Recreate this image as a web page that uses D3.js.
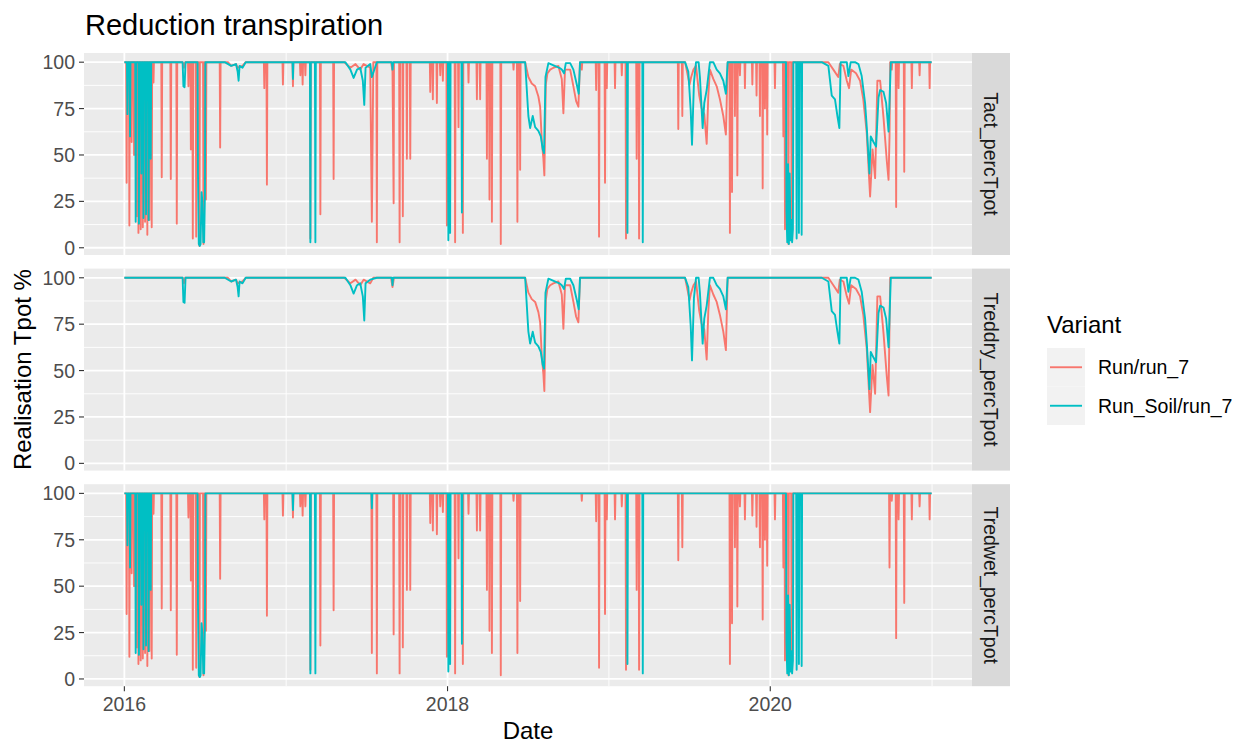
<!DOCTYPE html>
<html>
<head>
<meta charset="utf-8">
<script src="https://cdn.jsdelivr.net/npm/d3@7"></script>
<style>
body { margin: 0; background: #fff; }
text { font-family: "Liberation Sans", Arial, sans-serif; }
</style>
</head>
<body>
<div id="chart"></div>
<script>
const facets = ["Tact_percTpot", "Treddry_percTpot", "Tredwet_percTpot"];
const variants = ["Run/run_7", "Run_Soil/run_7"];
const yTicks = [0, 25, 50, 75, 100];
const yMinor = [12.5, 37.5, 62.5, 87.5];
const xTicks = [2016, 2018, 2020];
const xMinor = [2017, 2019, 2021];
const firstDay = 2016;
const lastDay = 2020.9973;

// wet stress: days below 100 % as [decimal year, %]
const wetRun = [
	[2016.014, 35], [2016.031, 12], [2016.045, 57], [2016.060, 50], [2016.076, 17], [2016.087, 8],
	[2016.101, 10], [2016.114, 11], [2016.128, 14], [2016.142, 7], [2016.155, 15], [2016.169, 11],
	[2016.180, 89], [2016.231, 38], [2016.287, 37], [2016.324, 13], [2016.396, 87], [2016.411, 53],
	[2016.423, 5], [2016.444, 6], [2016.464, 1], [2016.489, 2], [2016.504, 26], [2016.592, 54],
	[2016.865, 86], [2016.881, 34], [2016.980, 88], [2017.042, 87], [2017.088, 93], [2017.102, 88],
	[2017.119, 93], [2017.150, 5], [2017.212, 18], [2017.294, 37], [2017.531, 14], [2017.562, 3],
	[2017.666, 24], [2017.703, 3], [2017.723, 17], [2017.748, 48], [2017.769, 48], [2017.893, 84],
	[2017.909, 80], [2017.934, 78], [2017.955, 93], [2017.971, 90], [2017.996, 12], [2018.047, 3],
	[2018.068, 65], [2018.095, 8], [2018.130, 89], [2018.182, 80], [2018.202, 80], [2018.244, 48],
	[2018.260, 26], [2018.275, 14], [2018.330, 2], [2018.409, 96], [2018.433, 14], [2018.450, 42],
	[2018.832, 96], [2018.921, 85], [2018.939, 6], [2018.976, 35], [2018.987, 86], [2019.038, 86],
	[2019.080, 93], [2019.106, 5], [2019.172, 48], [2019.187, 5], [2019.430, 64], [2019.455, 71],
	[2019.750, 8], [2019.763, 30], [2019.781, 71], [2019.796, 39], [2019.812, 93], [2019.843, 86],
	[2019.889, 88], [2019.915, 82], [2019.936, 71], [2019.953, 32], [2019.967, 75], [2019.981, 61],
	[2020.029, 86], [2020.081, 60], [2020.091, 10], [2020.112, 2], [2020.132, 6], [2020.737, 60],
	[2020.751, 96], [2020.778, 22], [2020.793, 86], [2020.828, 41], [2020.875, 86], [2020.923, 93],
	[2020.985, 86]
];
const wetSoil = [
	[2016.019, 72], [2016.035, 60], [2016.070, 14], [2016.090, 13], [2016.105, 40], [2016.118, 16],
	[2016.134, 18], [2016.150, 15], [2016.163, 48],
	[2016.455, 40], [2016.460, 2], [2016.466, 1], [2016.471, 2], [2016.477, 30], [2016.482, 25],
	[2016.488, 3], [2016.493, 3], [2016.498, 30],
	[2017.042, 91], [2017.150, 3], [2017.181, 3], [2017.531, 92], [2018.005, 4], [2018.016, 8],
	[2018.089, 19], [2019.115, 8], [2019.210, 3],
	[2020.100, 20], [2020.105, 3], [2020.110, 45], [2020.115, 2], [2020.120, 40], [2020.125, 4],
	[2020.130, 15], [2020.135, 3], [2020.140, 10], [2020.163, 5], [2020.177, 8], [2020.194, 7]
];

// dry stress: multi-day dips, each a list of [decimal year, %]
const dryRun = [
	[[2016.360, 100], [2016.368, 97], [2016.376, 100]],
	[[2016.640, 100], [2016.660, 98], [2016.690, 99], [2016.700, 97], [2016.730, 98], [2016.750, 100]],
	[[2017.360, 100], [2017.398, 97], [2017.430, 99], [2017.459, 96], [2017.480, 99], [2017.521, 97], [2017.540, 100]],
	[[2017.650, 100], [2017.659, 95], [2017.668, 100]],
	[[2018.481, 100], [2018.501, 92], [2018.522, 88.5], [2018.543, 87], [2018.563, 81.5], [2018.574, 76],
	 [2018.584, 58], [2018.594, 48], [2018.600, 39], [2018.609, 88], [2018.619, 94], [2018.636, 96],
	 [2018.656, 97], [2018.687, 98], [2018.708, 91], [2018.718, 72.5], [2018.728, 96], [2018.760, 96],
	 [2018.780, 87], [2018.797, 79], [2018.811, 76], [2018.821, 100]],
	[[2019.472, 100], [2019.500, 88], [2019.510, 92], [2019.524, 96], [2019.540, 98], [2019.560, 82],
	 [2019.575, 75], [2019.591, 72], [2019.606, 56], [2019.616, 82], [2019.626, 96], [2019.647, 91],
	 [2019.668, 87], [2019.688, 80], [2019.709, 71], [2019.725, 61], [2019.736, 100]],
	[[2020.318, 100], [2020.359, 100], [2020.390, 96], [2020.420, 92], [2020.430, 99], [2020.452, 98],
	 [2020.473, 90], [2020.487, 86], [2020.500, 96], [2020.530, 94], [2020.555, 90], [2020.575, 80],
	 [2020.596, 62], [2020.617, 27.6], [2020.632, 53], [2020.648, 37.5], [2020.662, 90], [2020.679, 90],
	 [2020.700, 70], [2020.720, 47], [2020.731, 36.6], [2020.741, 100]]
];
const drySoil = [
	[[2016.360, 100], [2016.365, 87], [2016.372, 86.5], [2016.378, 100]],
	[[2016.620, 100], [2016.660, 98], [2016.690, 99], [2016.700, 95], [2016.706, 90], [2016.712, 98], [2016.730, 97], [2016.750, 100]],
	[[2017.367, 100], [2017.398, 96], [2017.418, 91.5], [2017.439, 96], [2017.459, 97], [2017.475, 90],
	 [2017.484, 77], [2017.492, 97], [2017.521, 99], [2017.562, 100]],
	[[2017.655, 100], [2017.659, 96], [2017.663, 100]],
	[[2018.481, 100], [2018.501, 71], [2018.512, 64.5], [2018.528, 71], [2018.543, 65], [2018.563, 63],
	 [2018.578, 60], [2018.590, 53], [2018.598, 51], [2018.607, 92], [2018.625, 99.5], [2018.693, 97],
	 [2018.708, 96], [2018.722, 94], [2018.733, 99.5], [2018.760, 99.5], [2018.780, 96], [2018.801, 88],
	 [2018.813, 83], [2018.821, 100]],
	[[2019.472, 100], [2019.492, 95], [2019.507, 74], [2019.515, 55.5], [2019.527, 89], [2019.540, 100],
	 [2019.556, 100], [2019.564, 92], [2019.581, 64.5], [2019.591, 78], [2019.606, 85], [2019.626, 100],
	 [2019.647, 100], [2019.668, 96], [2019.688, 94], [2019.709, 90], [2019.725, 83], [2019.736, 100]],
	[[2020.318, 100], [2020.359, 98], [2020.380, 82], [2020.400, 80], [2020.415, 71], [2020.427, 64.5],
	 [2020.435, 100], [2020.473, 100], [2020.483, 92.5], [2020.497, 100], [2020.524, 100], [2020.545, 99],
	 [2020.565, 92.5], [2020.586, 78], [2020.596, 65.5], [2020.607, 49], [2020.613, 40], [2020.621, 60],
	 [2020.638, 57], [2020.654, 54.5], [2020.669, 81], [2020.679, 85], [2020.700, 84], [2020.716, 78],
	 [2020.731, 62.6], [2020.745, 100]]
];

const colors = { run: "#F8766D", soil: "#00BFC4", panel: "#EBEBEB", strip: "#D9D9D9", tick: "#333333", tickText: "#4D4D4D" };
const dims = { left: 84, right: 972, top: 53, panelHeight: 202, gap: 13.6, strip: 38, lineWidth: 1.9 };
const fonts = { title: "29px", axisTitle: "24px", tick: "19.5px", strip: "19.5px", legendTitle: "24px", legend: "19.5px" };

const DAY = 1 / 365.25;

function toDate(yr) {
	const y = Math.floor(yr);
	const a = Date.UTC(y, 0, 1), b = Date.UTC(y + 1, 0, 1);
	return new Date(a + (yr - y) * (b - a));
}

// wet days return to 100 % unless the next wet day follows within 2 days or a dry dip is running
function series(wet, dry) {
	const dips = dry || [];
	const inDip = t => dips.some(d => t >= d[0][0] && t <= d[d.length - 1][0]);
	const v = [[firstDay, 100], [lastDay, 100]];
	const pts = (wet || []).slice().sort((a, b) => a[0] - b[0]);
	pts.forEach((p, i) => {
		const prev = pts[i - 1], next = pts[i + 1];
		if (!inDip(p[0]) && (!prev || p[0] - prev[0] > 2.5 * DAY)) v.push([p[0] - DAY, 100]);
		v.push(p);
		if (!inDip(p[0]) && (!next || next[0] - p[0] > 2.5 * DAY)) v.push([p[0] + DAY, 100]);
	});
	dips.forEach(d => v.push(...d));
	return v.sort((a, b) => a[0] - b[0]);
}

const panels = [
	{ name: facets[0], run: series(wetRun, dryRun), soil: series(wetSoil, drySoil) },
	{ name: facets[1], run: series(null, dryRun), soil: series(null, drySoil) },
	{ name: facets[2], run: series(wetRun, null), soil: series(wetSoil, null) }
];

const svg = d3.select("#chart").append("svg")
	.attr("width", 1241)
	.attr("height", 744);

const t0 = toDate(firstDay), t1 = toDate(lastDay);
const pad = (t1 - t0) * 0.05;
const x = d3.scaleUtc()
	.domain([new Date(+t0 - pad), new Date(+t1 + pad)])
	.range([dims.left, dims.right]);
const y = d3.scaleLinear()
	.domain([-3.9, 104.95])
	.range([dims.panelHeight, 0]);

const line = d3.line()
	.x(d => x(toDate(d[0])))
	.y(d => y(d[1]));

// title
svg.append("text")
	.attr("x", 85)
	.attr("y", 35)
	.style("font-size", fonts.title)
	.attr("fill", "#000")
	.text("Reduction transpiration");

panels.forEach((p, i) => {
	const top = dims.top + i * (dims.panelHeight + dims.gap);
	const g = svg.append("g").attr("transform", `translate(0, ${top})`);

	g.append("rect")
		.attr("x", dims.left)
		.attr("width", dims.right - dims.left)
		.attr("height", dims.panelHeight)
		.attr("fill", colors.panel);

	// minor grid
	g.selectAll(".ymin").data(yMinor).enter().append("line")
		.attr("x1", dims.left).attr("x2", dims.right)
		.attr("y1", d => y(d)).attr("y2", d => y(d))
		.attr("stroke", "#fff").attr("stroke-width", 0.9);
	g.selectAll(".xmin").data(xMinor).enter().append("line")
		.attr("x1", d => x(toDate(d))).attr("x2", d => x(toDate(d)))
		.attr("y1", 0).attr("y2", dims.panelHeight)
		.attr("stroke", "#fff").attr("stroke-width", 0.9);
	// major grid
	g.selectAll(".ymaj").data(yTicks).enter().append("line")
		.attr("x1", dims.left).attr("x2", dims.right)
		.attr("y1", d => y(d)).attr("y2", d => y(d))
		.attr("stroke", "#fff").attr("stroke-width", 1.8);
	g.selectAll(".xmaj").data(xTicks).enter().append("line")
		.attr("x1", d => x(toDate(d))).attr("x2", d => x(toDate(d)))
		.attr("y1", 0).attr("y2", dims.panelHeight)
		.attr("stroke", "#fff").attr("stroke-width", 1.8);

	// series: Run first, Run_Soil on top
	g.append("path")
		.datum(p.run)
		.attr("d", line)
		.attr("fill", "none")
		.attr("stroke", colors.run)
		.attr("stroke-width", dims.lineWidth)
		.attr("stroke-linejoin", "round");
	g.append("path")
		.datum(p.soil)
		.attr("d", line)
		.attr("fill", "none")
		.attr("stroke", colors.soil)
		.attr("stroke-width", dims.lineWidth)
		.attr("stroke-linejoin", "round");

	// y axis
	g.selectAll(".ytick").data(yTicks).enter().append("line")
		.attr("x1", dims.left - 5).attr("x2", dims.left)
		.attr("y1", d => y(d)).attr("y2", d => y(d))
		.attr("stroke", colors.tick).attr("stroke-width", 1.1);
	g.selectAll(".ylab").data(yTicks).enter().append("text")
		.attr("x", dims.left - 9)
		.attr("y", d => y(d))
		.attr("dy", "0.36em")
		.attr("text-anchor", "end")
		.style("font-size", fonts.tick)
		.attr("fill", colors.tickText)
		.text(d => d);

	// strip
	g.append("rect")
		.attr("x", dims.right)
		.attr("width", dims.strip)
		.attr("height", dims.panelHeight)
		.attr("fill", colors.strip);
	g.append("text")
		.attr("transform", `translate(${dims.right + dims.strip / 2}, ${dims.panelHeight / 2}) rotate(90)`)
		.attr("text-anchor", "middle")
		.attr("dy", "0.36em")
		.style("font-size", fonts.strip)
		.attr("fill", "#1A1A1A")
		.text(p.name);
});

// x axis
const bottom = dims.top + 3 * dims.panelHeight + 2 * dims.gap;
const xa = svg.append("g");
xa.selectAll("line").data(xTicks).enter().append("line")
	.attr("x1", d => x(toDate(d))).attr("x2", d => x(toDate(d)))
	.attr("y1", bottom).attr("y2", bottom + 5)
	.attr("stroke", colors.tick).attr("stroke-width", 1.1);
xa.selectAll("text").data(xTicks).enter().append("text")
	.attr("x", d => x(toDate(d)))
	.attr("y", bottom + 25)
	.attr("text-anchor", "middle")
	.style("font-size", fonts.tick)
	.attr("fill", colors.tickText)
	.text(d => d);

// axis titles
svg.append("text")
	.attr("x", (dims.left + dims.right) / 2)
	.attr("y", 739)
	.attr("text-anchor", "middle")
	.style("font-size", fonts.axisTitle)
	.attr("fill", "#000")
	.text("Date");
svg.append("text")
	.attr("transform", `translate(31, ${dims.top + (bottom - dims.top) / 2}) rotate(-90)`)
	.attr("text-anchor", "middle")
	.style("font-size", fonts.axisTitle)
	.attr("fill", "#000")
	.text("Realisation Tpot %");

// legend
const legend = svg.append("g").attr("transform", "translate(1047, 333)");
legend.append("text")
	.attr("x", 0)
	.attr("y", 0)
	.style("font-size", fonts.legendTitle)
	.attr("fill", "#000")
	.text("Variant");
variants.forEach((v, i) => {
	const ky = 15 + i * 38.5;
	legend.append("rect")
		.attr("x", 0).attr("y", ky)
		.attr("width", 38).attr("height", 38.5)
		.attr("fill", "#F2F2F2");
	legend.append("line")
		.attr("x1", 3).attr("x2", 35)
		.attr("y1", ky + 19.25).attr("y2", ky + 19.25)
		.attr("stroke", i === 0 ? colors.run : colors.soil)
		.attr("stroke-width", dims.lineWidth);
	legend.append("text")
		.attr("x", 51)
		.attr("y", ky + 19.25)
		.attr("dy", "0.36em")
		.style("font-size", fonts.legend)
		.attr("fill", "#000")
		.text(v);
});
</script>
</body>
</html>
